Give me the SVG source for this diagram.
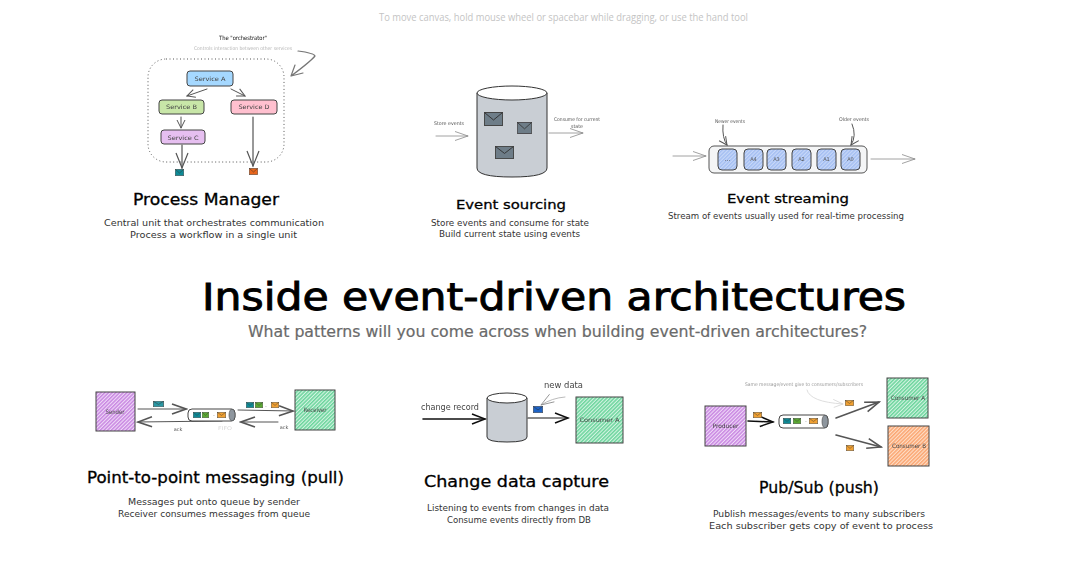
<svg xmlns="http://www.w3.org/2000/svg" width="1065" height="562" viewBox="0 0 1065 562">
<style>
text{font-family:"DejaVu Sans","Liberation Sans",sans-serif;fill:#1e1e1e}
.title{font-size:37px;fill:#000;stroke:#000;stroke-width:.9}
.sub{font-size:15px;fill:#6a6a6a;stroke:#6a6a6a;stroke-width:.2}
.h{font-size:15px;fill:#000;stroke:#000;stroke-width:.3}
.d{font-size:9px;fill:#333}
.s{font-size:6px;fill:#444}
.xs{font-size:5px;fill:#555}
.faint{font-size:5px;fill:#b5b5b5}
.m{text-anchor:middle}
.box{stroke:#444;stroke-width:1}
.c{fill:none;stroke:#555;stroke-width:1;stroke-linecap:round;marker-end:url(#a)}
.cb{fill:none;stroke:#555;stroke-width:1.2;stroke-linecap:round;marker-end:url(#ab)}
.cg{fill:none;stroke:#8a8a8a;stroke-width:.8;stroke-linecap:round;marker-end:url(#ag)}
.cl{fill:none;stroke:#d5d5d5;stroke-width:.8;stroke-linecap:round;marker-end:url(#al)}
.ck{fill:none;stroke:#111;stroke-width:1.5;stroke-linecap:round;marker-end:url(#ak)}
.ct{fill:none;stroke:#555;stroke-width:1.6;stroke-linecap:round;marker-end:url(#at)}
.cyl{fill:#c9ced4;stroke:#333;stroke-width:1}
.top{fill:#fff;stroke:#333;stroke-width:1}
.blk{fill:url(#hb);stroke:#444;stroke-width:1}
.soft{filter:url(#soft)}
</style>
<defs>
<filter id="soft" x="-2%" y="-2%" width="104%" height="104%"><feGaussianBlur stdDeviation=".3"/></filter>
<pattern id="hp" width="2.6" height="2.6" patternUnits="userSpaceOnUse" patternTransform="rotate(45)"><rect width="2.6" height="2.6" fill="#f0dcf8"/><rect width="1.5" height="2.6" fill="#c987e2"/></pattern>
<pattern id="hg" width="2.6" height="2.6" patternUnits="userSpaceOnUse" patternTransform="rotate(45)"><rect width="2.6" height="2.6" fill="#d5f4e3"/><rect width="1.5" height="2.6" fill="#6cd59d"/></pattern>
<pattern id="ho" width="2.6" height="2.6" patternUnits="userSpaceOnUse" patternTransform="rotate(45)"><rect width="2.6" height="2.6" fill="#fee0ca"/><rect width="1.5" height="2.6" fill="#fba672"/></pattern>
<pattern id="hb" width="2.6" height="2.6" patternUnits="userSpaceOnUse" patternTransform="rotate(45)"><rect width="2.6" height="2.6" fill="#c8d8f8"/><rect width="1.4" height="2.6" fill="#a3bef2"/></pattern>
<marker id="a" markerWidth="12" markerHeight="12" refX="10" refY="6" orient="auto" markerUnits="userSpaceOnUse"><path d="M2 2 L10 6 L2 10" fill="none" stroke="#555" stroke-width="1"/></marker>
<marker id="ab" markerWidth="20" markerHeight="18" refX="18" refY="9" orient="auto" markerUnits="userSpaceOnUse"><path d="M3 3 L18 9 L3 15" fill="none" stroke="#555" stroke-width="1.2"/></marker>
<marker id="ag" markerWidth="18" markerHeight="14" refX="16" refY="7" orient="auto" markerUnits="userSpaceOnUse"><path d="M3 2.500 L16 7 L3 11.500" fill="none" stroke="#8a8a8a" stroke-width=".8"/></marker>
<marker id="al" markerWidth="14" markerHeight="12" refX="12" refY="6" orient="auto" markerUnits="userSpaceOnUse"><path d="M2 2 L12 6 L3 10" fill="none" stroke="#d5d5d5" stroke-width=".8"/></marker>
<marker id="ak" markerWidth="18" markerHeight="14" refX="16" refY="7" orient="auto" markerUnits="userSpaceOnUse"><path d="M3 2 L16 7 L3 12" fill="none" stroke="#111" stroke-width="1.5"/></marker>
<marker id="at" markerWidth="20" markerHeight="16" refX="18" refY="8" orient="auto" markerUnits="userSpaceOnUse"><path d="M4 3 L18 8 L4 13" fill="none" stroke="#555" stroke-width="1.6"/></marker>
<symbol id="env" viewBox="0 0 20 14" preserveAspectRatio="none"><rect x=".5" y=".5" width="19" height="13" stroke="#444" stroke-width="1"/><path d="M.5 .5 L10 8 L19.5 .5" fill="none" stroke="#333" stroke-width="1"/></symbol>
</defs>

<text x="379" y="21" textLength="369" lengthAdjust="spacingAndGlyphs" style="font-size:10px;fill:#c4c4c4;font-family:'Open Sans',sans-serif">To move canvas, hold mouse wheel or spacebar while dragging, or use the hand tool</text>
<text class="title" x="202" y="310" textLength="704" lengthAdjust="spacingAndGlyphs">Inside event-driven architectures</text>
<text class="sub" x="248" y="337" textLength="619" lengthAdjust="spacingAndGlyphs">What patterns will you come across when building event-driven architectures?</text>

<text class="h" x="133" y="205" textLength="146" lengthAdjust="spacingAndGlyphs">Process Manager</text>
<text class="d" x="104" y="226" textLength="220" lengthAdjust="spacingAndGlyphs">Central unit that orchestrates communication</text>
<text class="d" x="130" y="238" textLength="167" lengthAdjust="spacingAndGlyphs">Process a workflow in a single unit</text>
<text class="h" x="456" y="209" textLength="110" lengthAdjust="spacingAndGlyphs" style="font-size:13px">Event sourcing</text>
<text class="d" x="431" y="226" textLength="158" lengthAdjust="spacingAndGlyphs">Store events and consume for state</text>
<text class="d" x="439" y="237" textLength="141" lengthAdjust="spacingAndGlyphs">Build current state using events</text>
<text class="h" x="727" y="203" textLength="122" lengthAdjust="spacingAndGlyphs" style="font-size:13px">Event streaming</text>
<text class="d" x="668" y="219" textLength="236" lengthAdjust="spacingAndGlyphs">Stream of events usually used for real-time processing</text>
<text class="h" x="87" y="483" textLength="257" lengthAdjust="spacingAndGlyphs">Point-to-point messaging (pull)</text>
<text class="d" x="128" y="505" textLength="172" lengthAdjust="spacingAndGlyphs">Messages put onto queue by sender</text>
<text class="d" x="118" y="517" textLength="192" lengthAdjust="spacingAndGlyphs">Receiver consumes messages from queue</text>
<text class="h" x="424" y="487" textLength="185" lengthAdjust="spacingAndGlyphs">Change data capture</text>
<text class="d" x="427" y="511" textLength="182" lengthAdjust="spacingAndGlyphs">Listening to events from changes in data</text>
<text class="d" x="447" y="523" textLength="144" lengthAdjust="spacingAndGlyphs">Consume events directly from DB</text>
<text class="h" x="759" y="493" textLength="120" lengthAdjust="spacingAndGlyphs">Pub/Sub (push)</text>
<text class="d" x="713" y="517" textLength="212" lengthAdjust="spacingAndGlyphs">Publish messages/events to many subscribers</text>
<text class="d" x="709" y="529" textLength="224" lengthAdjust="spacingAndGlyphs">Each subscriber gets copy of event to process</text>

<g id="connectors" class="soft">
<path class="c" d="M207 89 L187 96"/>
<path class="c" d="M231 89 L245 96"/>
<path class="c" d="M181 117 L181 128"/>
<path class="cb" d="M182 145 L182 168"/>
<path class="cb" d="M253 117 L253 166"/>
<path d="M298 51 Q314 53 315 56 Q310 62 291 76 M291 76 L295 65 M291 76 L303 73" fill="none" stroke="#777" stroke-width="1.2" stroke-linejoin="round" stroke-linecap="round"/>
<path class="cg" d="M436 136 L468 136"/>
<path class="cg" d="M549 133 L583 133"/>
<path class="cg" d="M673 156 L706 156"/>
<path class="cg" d="M871 159 L915 159"/>
<path class="c" d="M723 125 Q722 138 727 145"/>
<path class="c" d="M852 124 Q857 136 851 145"/>
<path class="ct" style="stroke-width:1" d="M138 409 L186 409"/>
<path class="ct" style="stroke-width:1" d="M222 421 L138 422"/>
<path class="ct" style="stroke-width:1" d="M238 410 L293 411"/>
<path class="ct" style="stroke-width:1" d="M278 422 L241 422"/>
<path class="ck" d="M423 419 L485 419"/>
<path class="ck" style="stroke-width:1.2" d="M528 418 L568 418"/>
<path class="cg" style="stroke:#aaa" d="M565 397 Q552 398 541 405"/>
<path class="ck" d="M748 421 L773 422"/>
<path class="cl" d="M807 390 Q810 402 843 404"/>
<path class="ct" d="M836 418 L879 402"/>
<path class="ct" d="M836 435 L881 447"/>
</g>

<g id="process-manager" class="soft">
<rect x="148" y="59" width="136" height="103" rx="18" fill="none" stroke="#555" stroke-width="1" stroke-dasharray="1 2.500"/>
<text class="s m" style="fill:#111" x="243" y="40" textLength="48" lengthAdjust="spacingAndGlyphs">The "orchestrator"</text>
<text class="faint" x="194" y="50" textLength="98" lengthAdjust="spacingAndGlyphs">Controls interaction between other services</text>
</g>
<g id="service-a" class="soft"><rect x="187" y="71" width="46" height="15" rx="3" fill="#a5d8ff" class="box"/><text class="s m" x="210" y="80.500" textLength="31" lengthAdjust="spacingAndGlyphs">Service A</text></g>
<g id="service-b" class="soft"><rect x="159" y="100" width="45" height="14" rx="3" fill="#c8e6a8" class="box"/><text class="s m" x="181.500" y="109" textLength="31" lengthAdjust="spacingAndGlyphs">Service B</text></g>
<g id="service-d" class="soft"><rect x="231" y="100" width="46" height="14" rx="3" fill="#ffc0cf" class="box"/><text class="s m" x="254" y="109" textLength="31" lengthAdjust="spacingAndGlyphs">Service D</text></g>
<g id="service-c" class="soft"><rect x="161" y="130" width="44" height="14" rx="3" fill="#e6bff0" class="box"/><text class="s m" x="183" y="140" textLength="31" lengthAdjust="spacingAndGlyphs">Service C</text></g>
<g id="pm-envelopes" class="soft"><use href="#env" x="175" y="169" width="9" height="7" fill="#0f8a96"/><use href="#env" x="249" y="168" width="9" height="7" fill="#e8651a"/></g>

<g id="event-store" class="soft">
<path class="cyl" d="M477 93 L477 168 Q477 177 512 177 Q547 177 547 168 L547 93 Z"/>
<ellipse class="top" cx="512" cy="93" rx="35" ry="7"/>
<use href="#env" x="484" y="112" width="19" height="14" fill="#6e7d88"/>
<use href="#env" x="517" y="122" width="15" height="12" fill="#6e7d88"/>
<use href="#env" x="495" y="146" width="19" height="13" fill="#6e7d88"/>
<text class="xs" x="434" y="125" textLength="30" lengthAdjust="spacingAndGlyphs">Store events</text>
<text class="xs m" x="577" y="121" textLength="46" lengthAdjust="spacingAndGlyphs">Consume for current</text>
<text class="xs m" x="577" y="128" textLength="12" lengthAdjust="spacingAndGlyphs">state</text>
</g>

<g id="event-stream" class="soft">
<rect x="709" y="146" width="158" height="27" rx="5" fill="#f4f5f6" stroke="#555" stroke-width="1"/>
<rect class="blk" x="718" y="149" width="19" height="21" rx="4"/><text class="s m" x="727.500" y="161">...</text>
<rect class="blk" x="744" y="149" width="19" height="21" rx="4"/><text class="xs m" x="753.500" y="161">A4</text>
<rect class="blk" x="767" y="149" width="19" height="21" rx="4"/><text class="xs m" x="776.500" y="161">A3</text>
<rect class="blk" x="792" y="149" width="19" height="21" rx="4"/><text class="xs m" x="801.500" y="161">A2</text>
<rect class="blk" x="817" y="149" width="19" height="21" rx="4"/><text class="xs m" x="826.500" y="161">A1</text>
<rect class="blk" x="841" y="149" width="19" height="21" rx="4"/><text class="xs m" x="850.500" y="161">A0</text>
<text class="xs" x="715" y="123" textLength="30" lengthAdjust="spacingAndGlyphs">Newer events</text>
<text class="xs" x="839" y="121" textLength="30" lengthAdjust="spacingAndGlyphs">Older events</text>
</g>

<g id="sender" class="soft"><rect x="96" y="392" width="39" height="39" fill="url(#hp)" class="box"/><text class="s m" x="115" y="414" textLength="19" lengthAdjust="spacingAndGlyphs">Sender</text></g>
<g id="receiver" class="soft"><rect x="295" y="390" width="40" height="40" fill="url(#hg)" class="box"/><text class="s m" x="315" y="412" textLength="23" lengthAdjust="spacingAndGlyphs">Receiver</text></g>
<g id="fifo-queue" class="soft">
<rect x="188" y="409" width="47" height="12" rx="4" fill="#fff" stroke="#444" stroke-width="1"/>
<ellipse cx="232" cy="415" rx="3" ry="6" fill="#8e969e" stroke="#444" stroke-width=".6"/>
<use href="#env" x="193" y="412" width="8" height="6" fill="#0f8a96"/>
<use href="#env" x="202" y="412" width="7" height="6" fill="#5aa832"/>
<text class="xs m" x="214" y="417">-</text>
<use href="#env" x="217" y="412" width="9" height="6" fill="#f0a030"/>
<text class="faint m" style="fill:#d8d8d8" x="225" y="430" textLength="14" lengthAdjust="spacingAndGlyphs">FIFO</text>
</g>
<g id="p2p-labels" class="soft">
<use href="#env" x="153" y="401" width="11" height="6" fill="#2b98a4"/>
<use href="#env" x="246" y="402" width="8" height="6" fill="#0f8a96"/>
<use href="#env" x="255" y="402" width="8" height="6" fill="#5aa832"/>
<text class="xs m" x="266" y="408">-</text>
<use href="#env" x="271" y="402" width="8" height="6" fill="#f0a030"/>
<text class="xs m" x="178" y="431">ack</text>
<text class="xs m" x="284" y="429">ack</text>
</g>

<g id="cdc-db" class="soft">
<path class="cyl" d="M487 398 L487 437 Q487 442 507 442 Q527 442 527 437 L527 398 Z"/>
<ellipse class="top" cx="507" cy="398" rx="20" ry="5"/>
</g>
<g id="cdc-labels" class="soft">
<text x="421" y="410" textLength="58" lengthAdjust="spacingAndGlyphs" style="font-size:8px;fill:#444">change record</text>
<text x="544" y="388" textLength="39" lengthAdjust="spacingAndGlyphs" style="font-size:8px;fill:#444">new data</text>
<use href="#env" x="533" y="406" width="10" height="7" fill="#1c64c8"/>
</g>
<g id="cdc-consumer" class="soft"><rect x="576" y="397" width="47" height="46" fill="url(#hg)" class="box"/><text class="s m" x="599.500" y="422" textLength="40" lengthAdjust="spacingAndGlyphs">Consumer A</text></g>

<g id="producer" class="soft"><rect x="705" y="406" width="41" height="40" fill="url(#hp)" class="box"/><text class="s m" x="725.500" y="428" textLength="26" lengthAdjust="spacingAndGlyphs">Producer</text></g>
<g id="pubsub-queue" class="soft">
<rect x="779" y="415" width="49" height="13" rx="4" fill="#fff" stroke="#444" stroke-width="1"/>
<ellipse cx="825" cy="421.500" rx="3" ry="6.500" fill="#8e969e" stroke="#444" stroke-width=".6"/>
<use href="#env" x="783" y="418" width="8" height="6" fill="#0f8a96"/>
<use href="#env" x="793" y="418" width="8" height="6" fill="#5aa832"/>
<text class="xs m" x="806" y="423">-</text>
<use href="#env" x="809" y="418" width="9" height="6" fill="#f0a030"/>
</g>
<g id="consumer-a" class="soft"><rect x="887" y="378" width="41" height="40" fill="url(#hg)" class="box"/><text class="s m" x="908" y="400" textLength="34" lengthAdjust="spacingAndGlyphs">Consumer A</text></g>
<g id="consumer-b" class="soft"><rect x="888" y="426" width="41" height="40" fill="url(#ho)" class="box"/><text class="s m" x="909" y="448" textLength="34" lengthAdjust="spacingAndGlyphs">Consumer B</text></g>
<g id="pubsub-labels" class="soft">
<text class="faint" style="fill:#999" x="745" y="386" textLength="118" lengthAdjust="spacingAndGlyphs">Same message/event give to consumers/subscribers</text>
<use href="#env" x="753" y="412" width="9" height="6" fill="#f0a030"/>
<use href="#env" x="845" y="400" width="9" height="6" fill="#f0a030"/>
<use href="#env" x="846" y="445" width="8" height="6" fill="#f0a030"/>
</g>
</svg>
